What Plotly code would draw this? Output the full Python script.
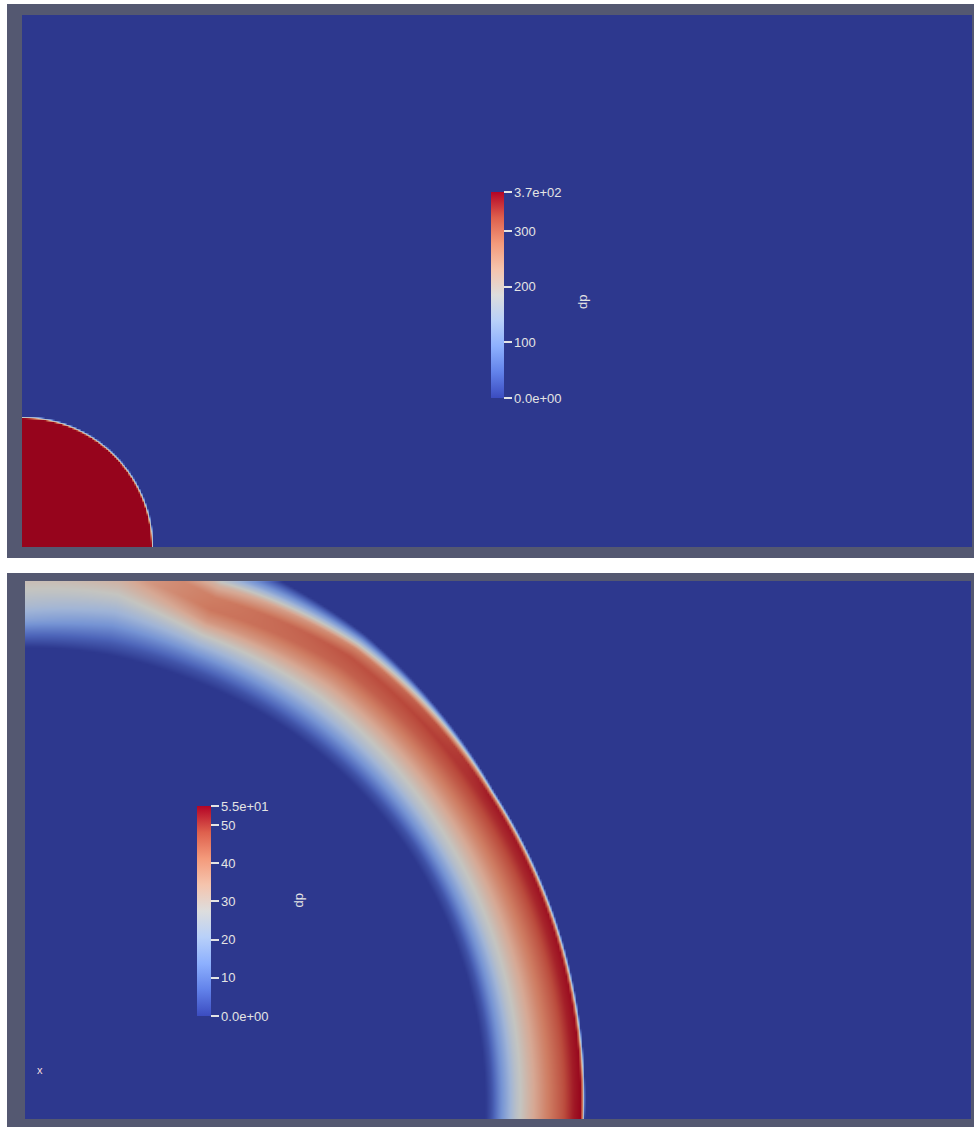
import numpy as np
import plotly.graph_objects as go

W, H = 974, 1127

# ---- Panel 1: initial pressure pulse (quarter disc) ----
dp_top_max = 370.0
pulse_radius = 130.0          # radius of the initial overpressure region
top_size = (950, 533)         # domain extent (x, y)
top_ticks = [0, 100, 200, 300, 370]
top_ticktext = ["0.0e+00", "100", "200", "300", "3.7e+02"]

# ---- Panel 2: outgoing wave, radial dp profiles at several angles ----
dp_bot_max = 55.0
bot_size = (947, 538)
profile_theta = [0, 35, 55, 70, 80, 90]      # degrees from the x axis
r_theta0 = [460, 466, 474, 490, 503, 520, 537, 548, 555, 557, 559]
dp_theta0 = [0, 4, 12, 25, 32, 40, 47, 53, 55, 40, 0]
r_theta35 = [468, 476, 485, 500, 514, 530, 546, 558, 566, 569, 572]
dp_theta35 = [0, 4, 12, 24, 31, 39, 46, 51, 53, 38, 0]
r_theta55 = [470, 478, 490, 505, 520, 536, 552, 565, 575, 583, 592]
dp_theta55 = [0, 4, 12, 22, 30, 38, 45, 47, 40, 20, 0]
r_theta70 = [470, 480, 493, 506, 518, 530, 542, 555, 568, 582, 598]
dp_theta70 = [0, 4, 12, 21, 29, 37, 42, 41, 32, 15, 0]
r_theta80 = [472, 484, 498, 512, 526, 540, 555, 570, 585, 600, 615]
dp_theta80 = [0, 5, 12, 19, 25, 30, 35, 36, 30, 14, 0]
r_theta90 = [472, 486, 500, 514, 528, 542, 556, 570, 585, 600, 615]
dp_theta90 = [0, 8, 17, 23, 27, 30, 34, 35, 28, 12, 0]
bot_ticks = [0, 10, 20, 30, 40, 50, 55]
bot_ticktext = ["0.0e+00", "10", "20", "30", "40", "50", "5.5e+01"]

# Cool-to-warm colour map (scalar bar) and its shaded version (surface)
cool_warm = [
    [0.0, "rgb(59,76,192)"], [0.125, "rgb(98,130,234)"], [0.25, "rgb(141,176,254)"],
    [0.375, "rgb(184,208,249)"], [0.5, "rgb(221,221,221)"], [0.625, "rgb(245,196,173)"],
    [0.75, "rgb(244,154,123)"], [0.875, "rgb(222,96,77)"], [1.0, "rgb(180,4,38)"],
]
cool_warm_shaded = [
    [0.0, "rgb(45,56,142)"], [0.125, "rgb(78,102,186)"], [0.25, "rgb(118,148,212)"],
    [0.375, "rgb(160,180,214)"], [0.5, "rgb(196,196,192)"], [0.625, "rgb(214,168,148)"],
    [0.75, "rgb(206,124,98)"], [0.875, "rgb(186,74,60)"], [1.0, "rgb(150,4,28)"],
]

frame_color = "#545871"
label_color = "#e4e4e4"
label_font = "Liberation Sans, Arial, sans-serif"

# ---- field grids ----
step = 2.0
xt = np.arange(step / 2, top_size[0], step)
yt = np.arange(step / 2, top_size[1], step)
XT, YT = np.meshgrid(xt, yt)
coverage = np.clip((pulse_radius - np.hypot(XT, YT)) / step + 0.5, 0.0, 1.0)
z_top = dp_top_max * coverage

xb = np.arange(step / 2, bot_size[0], step)
yb = np.arange(step / 2, bot_size[1], step)
XB, YB = np.meshgrid(xb, yb)
RB = np.hypot(XB, YB)
TB = np.degrees(np.arctan2(YB, XB))

r_table = np.array([r_theta0, r_theta35, r_theta55, r_theta70, r_theta80, r_theta90], float)
dp_table = np.array([dp_theta0, dp_theta35, dp_theta55, dp_theta70, dp_theta80, dp_theta90], float)
n_knots = r_table.shape[1]
r_k = [np.interp(TB, profile_theta, r_table[:, k]) for k in range(n_knots)]
v_k = [np.interp(TB, profile_theta, dp_table[:, k]) for k in range(n_knots)]
z_bot = np.zeros_like(RB)
for k in range(n_knots - 1):
    r0, r1, v0, v1 = r_k[k], r_k[k + 1], v_k[k], v_k[k + 1]
    sel = (RB >= r0) & (RB < r1)
    t = (RB - r0) / np.maximum(r1 - r0, 1e-9)
    z_bot = np.where(sel, v0 + t * (v1 - v0), z_bot)

fig = go.Figure()

fig.add_trace(go.Heatmap(
    x=xt, y=yt, z=z_top, zmin=0, zmax=dp_top_max, colorscale=cool_warm_shaded,
    zsmooth="best", showscale=False, hoverinfo="skip", xaxis="x", yaxis="y"))
fig.add_trace(go.Heatmap(
    x=xb, y=yb, z=z_bot, zmin=0, zmax=dp_bot_max, colorscale=cool_warm_shaded,
    zsmooth="best", showscale=False, hoverinfo="skip", xaxis="x2", yaxis="y2"))


def scalar_bar(axis_x, axis_y, cmax, ticks, ticktext, left_px, top_px, length, thick):
    return go.Scatter(
        x=[None], y=[None], mode="markers", xaxis=axis_x, yaxis=axis_y,
        showlegend=False, hoverinfo="skip",
        marker=dict(
            color=[0], cmin=0, cmax=cmax, colorscale=cool_warm, showscale=True,
            colorbar=dict(
                x=left_px / W, xanchor="left", y=1 - top_px / H, yanchor="top",
                lenmode="pixels", len=length, thicknessmode="pixels", thickness=thick,
                xpad=0, ypad=0, outlinewidth=0, bgcolor="rgba(0,0,0,0)",
                tickmode="array", tickvals=ticks, ticktext=ticktext,
                ticks="outside", ticklen=8, tickwidth=1.5, tickcolor=label_color,
                tickfont=dict(family=label_font, size=13, color=label_color),
            ),
        ),
    )


fig.add_trace(scalar_bar("x", "y", dp_top_max, top_ticks, top_ticktext, 491, 192, 206, 13))
fig.add_trace(scalar_bar("x2", "y2", dp_bot_max, bot_ticks, bot_ticktext, 197, 806, 210, 14))

ax_common = dict(showgrid=False, zeroline=False, showticklabels=False, ticks="",
                 showline=False, fixedrange=True)
fig.update_layout(
    width=W, height=H, margin=dict(l=0, r=0, t=0, b=0),
    paper_bgcolor="white", plot_bgcolor="rgb(45,56,142)", showlegend=False,
    xaxis=dict(domain=[22 / W, 972 / W], range=[0, top_size[0]], anchor="y", **ax_common),
    yaxis=dict(domain=[1 - 547 / H, 1 - 14 / H], range=[0, top_size[1]], anchor="x", **ax_common),
    xaxis2=dict(domain=[25 / W, 972 / W], range=[0, bot_size[0]], anchor="y2", **ax_common),
    yaxis2=dict(domain=[1 - 1119 / H, 1 - 581 / H], range=[0, bot_size[1]], anchor="x2", **ax_common),
    shapes=[
        dict(type="rect", xref="paper", yref="paper", x0=7 / W, x1=1, y0=1 - 558 / H, y1=1 - 4 / H,
             fillcolor=frame_color, line=dict(width=0), layer="below"),
        dict(type="rect", xref="paper", yref="paper", x0=7 / W, x1=1, y0=0, y1=1 - 573 / H,
             fillcolor=frame_color, line=dict(width=0), layer="below"),
    ],
    annotations=[
        dict(text="dp", x=582 / W, y=1 - 293 / H, xref="paper", yref="paper", showarrow=False,
             textangle=-90, font=dict(family=label_font, size=13, color=label_color)),
        dict(text="dp", x=288 / W, y=1 - 910 / H, xref="paper", yref="paper", showarrow=False,
             textangle=-90, font=dict(family=label_font, size=13, color=label_color)),
        dict(text="x", x=35 / W, y=1 - 1078 / H, xref="paper", yref="paper", showarrow=False,
             font=dict(family=label_font, size=11, color="#f2dede")),
    ],
)

fig.write_html("out.html")
